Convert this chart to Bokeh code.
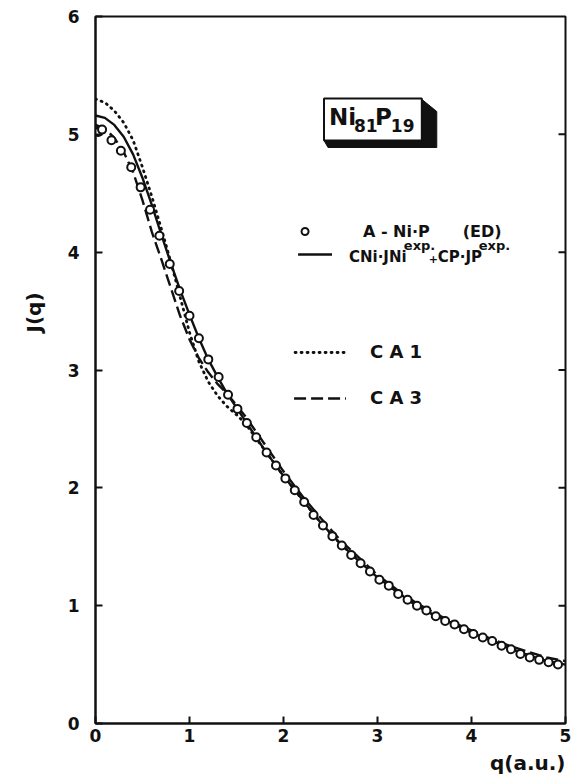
from bokeh.embed import file_html
from bokeh.models import FixedTicker, Label, Range1d, Title
from bokeh.plotting import figure
from bokeh.resources import INLINE

# ---- data: Compton profile J(q) of amorphous Ni81P19 ----
# measured points, A-Ni.P (ED)
q_exp = [0.00, 0.03, 0.07, 0.17, 0.27, 0.38, 0.48, 0.58, 0.68, 0.79, 0.89,
         1.00, 1.10, 1.20, 1.31, 1.41, 1.51, 1.61, 1.71, 1.82, 1.92, 2.02,
         2.12, 2.22, 2.32, 2.42, 2.52, 2.62, 2.72, 2.82, 2.92, 3.02, 3.12,
         3.22, 3.32, 3.42, 3.52, 3.62, 3.72, 3.82, 3.92, 4.02, 4.12, 4.22,
         4.32, 4.42, 4.52, 4.62, 4.72, 4.82, 4.92]
j_exp = [5.03, 5.02, 5.04, 4.95, 4.86, 4.72, 4.55, 4.36, 4.14, 3.90, 3.67,
         3.46, 3.27, 3.09, 2.94, 2.79, 2.67, 2.55, 2.43, 2.30, 2.19, 2.08,
         1.98, 1.88, 1.77, 1.68, 1.59, 1.51, 1.43, 1.36, 1.29, 1.22, 1.17,
         1.10, 1.05, 1.00, 0.96, 0.91, 0.87, 0.84, 0.80, 0.76, 0.73, 0.70,
         0.66, 0.63, 0.59, 0.56, 0.54, 0.52, 0.50]

# weighted sum of the element profiles, CNi*JNi(exp) + CP*JP(exp)
q_sum = [0.0, 0.1, 0.2, 0.3, 0.4, 0.5, 0.6, 0.7, 0.8, 0.9, 1.0, 1.1, 1.2,
         1.3, 1.4, 1.5, 1.6, 1.8, 2.0, 2.2, 2.4, 2.6, 2.8, 3.0, 3.2, 3.4,
         3.6, 3.8, 4.0, 4.2, 4.4, 4.6, 4.8, 5.0]
j_sum = [5.16, 5.14, 5.08, 4.98, 4.83, 4.63, 4.40, 4.15, 3.91, 3.68, 3.47,
         3.27, 3.09, 2.94, 2.80, 2.68, 2.56, 2.32, 2.10, 1.90, 1.70, 1.53,
         1.38, 1.24, 1.12, 1.01, 0.92, 0.85, 0.77, 0.71, 0.64, 0.58, 0.53,
         0.50]

# cluster approximation CA 1
q_ca1 = [0.0, 0.1, 0.2, 0.3, 0.4, 0.5, 0.6, 0.7, 0.8, 0.9, 1.0, 1.1, 1.2,
         1.3, 1.4, 1.5, 1.6, 1.8, 2.0, 2.2, 2.4, 2.6, 2.8, 3.0, 3.2, 3.4,
         3.6, 3.8, 4.0, 4.2, 4.4, 4.6, 4.8, 5.0]
j_ca1 = [5.30, 5.27, 5.20, 5.10, 4.95, 4.72, 4.47, 4.20, 3.92, 3.62, 3.32,
         3.07, 2.90, 2.78, 2.69, 2.62, 2.54, 2.32, 2.10, 1.90, 1.70, 1.53,
         1.38, 1.24, 1.12, 1.01, 0.92, 0.85, 0.77, 0.71, 0.64, 0.58, 0.53,
         0.50]

# cluster approximation CA 3
q_ca3 = [0.0, 0.1, 0.2, 0.3, 0.4, 0.5, 0.6, 0.7, 0.8, 0.9, 1.0, 1.1, 1.2,
         1.3, 1.4, 1.5, 1.6, 1.8, 2.0, 2.2, 2.4, 2.6, 2.8, 3.0, 3.2, 3.4,
         3.6, 3.8, 4.0, 4.2, 4.4, 4.6, 4.8, 5.0]
j_ca3 = [5.08, 5.05, 4.97, 4.85, 4.68, 4.44, 4.17, 3.94, 3.70, 3.46, 3.26,
         3.10, 2.98, 2.88, 2.80, 2.70, 2.60, 2.37, 2.14, 1.93, 1.74, 1.56,
         1.41, 1.26, 1.14, 1.03, 0.94, 0.86, 0.79, 0.72, 0.66, 0.61, 0.56,
         0.53]

x_ticks = [0, 1, 2, 3, 4, 5]
y_ticks = [0, 1, 2, 3, 4, 5, 6]

W, H = 571, 778
LEFT, RIGHT, TOP, BOTTOM = 94, 6, 16, 55
XS = (W - LEFT - RIGHT) / 5.0
YS = (H - TOP - BOTTOM) / 6.0


def qx(px):
    """canvas x pixel -> q"""
    return (px - LEFT) / XS


def jy(py):
    """canvas y pixel -> J"""
    return (H - BOTTOM - py) / YS


FONT = "DejaVu Sans"
INK = "#111111"

p = figure(width=W, height=H, x_range=Range1d(0, 5), y_range=Range1d(0, 6),
           output_backend="svg", toolbar_location=None,
           min_border_left=LEFT, min_border_right=RIGHT,
           min_border_top=TOP, min_border_bottom=BOTTOM)
p.grid.visible = False
p.outline_line_color = INK
p.outline_line_width = 2
p.background_fill_color = "white"
p.border_fill_color = "white"

for ax, ticks, standoff in ((p.xaxis, x_ticks, 5), (p.yaxis, y_ticks, 16)):
    ax.ticker = FixedTicker(ticks=ticks)
    ax.major_tick_in = 7
    ax.major_tick_out = 0
    ax.minor_tick_line_color = None
    ax.axis_line_width = 2
    ax.axis_line_color = INK
    ax.major_tick_line_width = 2
    ax.major_tick_line_color = INK
    ax.major_label_standoff = standoff
    ax.major_label_text_font = FONT
    ax.major_label_text_font_style = "bold"
    ax.major_label_text_font_size = "17px"
    ax.major_label_text_color = INK

# axis titles: J(q) between the 3 and 4 ticks, q(a.u.) at the right end
p.add_layout(Title(text="J(q)", align="left", offset=391, standoff=38,
                   text_font=FONT, text_font_style="bold",
                   text_font_size="20px", text_color=INK), "left")
p.add_layout(Title(text="q(a.u.)", align="right", offset=0, standoff=8,
                   text_font=FONT, text_font_style="bold",
                   text_font_size="20px", text_color=INK), "below")

# inward ticks on the right frame edge
inner = y_ticks[1:-1]
p.segment(x0=[5] * len(inner), x1=[5 - 7 / XS] * len(inner), y0=inner,
          y1=inner, line_color=INK, line_width=2)

# curves
p.line(q_ca1, j_ca1, line_color=INK, line_width=2.8, line_dash="1 5",
       line_cap="round")
p.line(q_ca3, j_ca3, line_color=INK, line_width=2.4, line_dash="12 5")
p.line(q_sum, j_sum, line_color=INK, line_width=2.4)
p.scatter(q_exp, j_exp, marker="circle", size=8, line_color=INK,
          line_width=2, fill_color="white")

# legend samples
p.scatter([qx(304)], [jy(231)], marker="circle", size=7, line_color=INK,
          line_width=2, fill_color="white")
p.line([qx(297), qx(331)], [jy(254), jy(254)], line_color=INK, line_width=2.4)
p.line([qx(294), qx(344)], [jy(352), jy(352)], line_color=INK,
       line_width=2.8, line_dash="1 5", line_cap="round")
p.line([qx(293), qx(345)], [jy(398), jy(398)], line_color=INK,
       line_width=2.4, line_dash="12 5")


def label(px, py, text, size, align="left"):
    p.add_layout(Label(x=qx(px), y=jy(py), text=text, text_font=FONT,
                       text_font_style="bold", text_font_size=f"{size}px",
                       text_color=INK, text_align=align,
                       text_baseline="middle"))


label(362, 231, "A - Ni·P", 16)
label(462, 231, "(ED)", 16)
label(348, 256, "CNi·JNi", 15)
label(403, 245, "exp.", 13)
label(428, 258, "+", 11)
label(437, 256, "CP·JP", 15)
label(478, 245, "exp.", 13)
label(369, 351, "C A  1", 18)
label(369, 397, "C A  3", 18)

# composition tag with a block shadow
p.patch([qx(420), qx(436), qx(436), qx(327), qx(323), qx(420)],
        [jy(98), jy(111), jy(147), jy(147), jy(140), jy(140)],
        fill_color=INK, line_color=INK, line_width=1)
p.quad(left=[qx(323)], right=[qx(421)], top=[jy(98)], bottom=[jy(140)],
       fill_color="white", line_color=INK, line_width=2)
label(328, 116, "Ni", 23)
label(353, 125, "81", 17)
label(374, 116, "P", 23)
label(390, 125, "19", 17)

open("out.html", "w").write(file_html(p, INLINE))
